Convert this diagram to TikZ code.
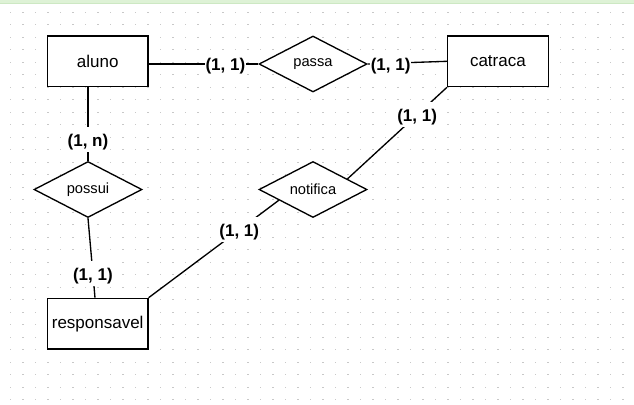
\documentclass[tikz,border=0pt]{standalone}
\usepackage{fontspec}
\setmainfont{Liberation Sans}
\usetikzlibrary{shapes.geometric,calc}
\definecolor{dotc}{RGB}{200,200,200}
\definecolor{bandc}{RGB}{222,242,214}
\definecolor{bandl}{RGB}{205,232,195}
\tikzset{
  entity/.style={draw=black, line width=1pt, fill=white, minimum width=75.4pt, minimum height=38pt, inner sep=0pt,
    font=\fontsize{12.75pt}{15pt}\selectfont},
  relation/.style={draw=black, line width=1pt, fill=white, diamond, aspect=2, minimum width=81pt, minimum height=42pt, inner sep=0pt,
    font=\fontsize{11pt}{13pt}\selectfont},
  conn/.style={draw=black, line width=1pt},
  lbl/.style={fill=white, inner xsep=0.5pt, inner ysep=0pt, text height=14.4pt, text depth=4.2pt,
    font=\fontsize{12.75pt}{15pt}\selectfont\bfseries}
}
\begin{document}
\begin{tikzpicture}[x=0.75pt, y=-0.75pt]
\useasboundingbox (0,0) rectangle (634,404);
\fill[white] (0,0) rectangle (634,404);
\fill[bandc] (0,0) rectangle (634,3);
\draw[bandl, line width=0.5pt] (0,3) -- (634,3);
\foreach \i in {0,...,49} {
  \foreach \j in {0,...,31} {
    \fill[dotc] ({10.5+12.5*\i-0.65},{12.3+12.5*\j-0.65}) rectangle ++(1.3,1.3);
  }
}
% entities
\node[entity] (aluno) at (97.7,61.3) {aluno};
\node[entity] (catraca) at (497.9,61.3) {catraca};
\node[entity] (responsavel) at (97.7,323.7) {responsavel};
% relations
\node[relation] (passa) at (313,64) {passa};
\node[relation] (notifica) at (313,189.5) {notifica};
\node[relation] (possui) at (88,189.5) {possui};
% anchors on borders
\coordinate (nNE) at ($(notifica.north)!0.63!(notifica.east)$);
\coordinate (nSW) at ($(notifica.west)!0.375!(notifica.south)$);
\coordinate (rTop) at ($(responsavel.north)+(-2.7,0)$);
% connectors
\draw[conn] (aluno.east |- passa.west) -- (passa.west) node[lbl, pos=0.7] {(1, 1)};
\draw[conn] (passa.east) -- (catraca.west) node[lbl, pos=0.29] {(1, 1)};
\draw[conn] (aluno.south -| possui.north) -- (possui.north) node[lbl, pos=0.706] {(1, n)};
\draw[conn] (possui.south) -- (rTop) node[lbl, pos=0.7] {(1, 1)};
\draw[conn] (catraca.south west) -- (nNE) node[lbl, pos=0.3] {(1, 1)};
\draw[conn] (responsavel.north east) -- (nSW) node[lbl, pos=0.696] {(1, 1)};
\end{tikzpicture}
\end{document}
